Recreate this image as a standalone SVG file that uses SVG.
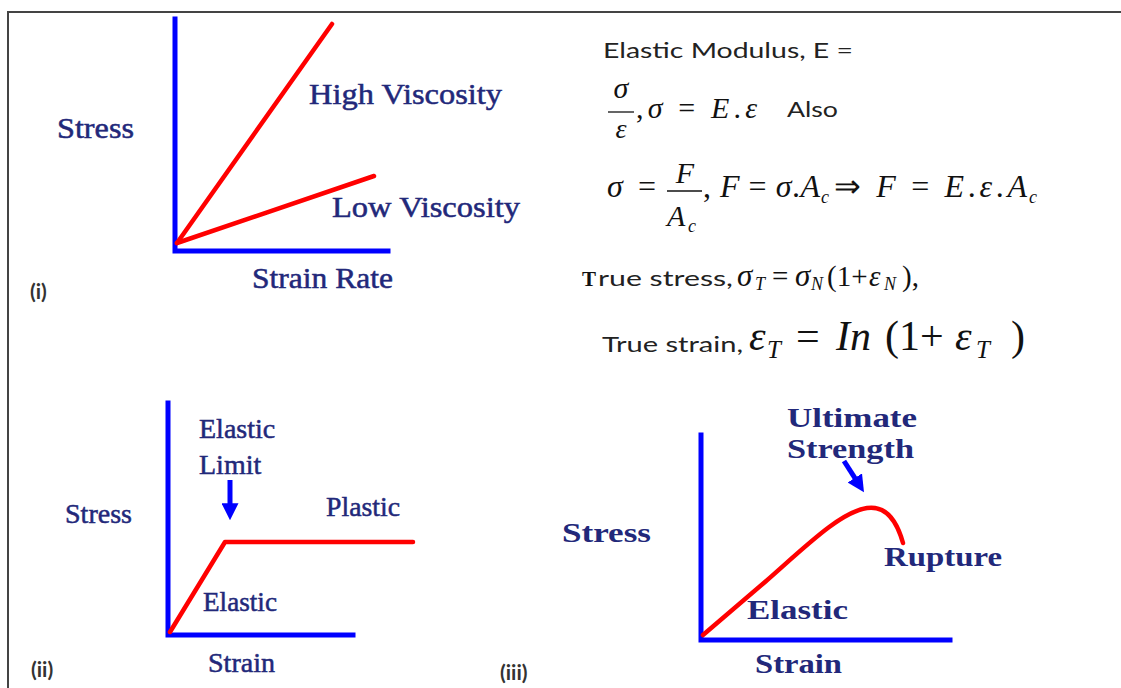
<svg xmlns="http://www.w3.org/2000/svg" width="1121" height="688" viewBox="0 0 1121 688">
<style>
.axis{stroke:#0000ff;stroke-width:5;fill:none;stroke-linecap:square}
.curve{stroke:#ff0000;stroke-width:4.5;fill:none;stroke-linecap:round;stroke-linejoin:round}
.lbl{font-family:"Liberation Serif","Times New Roman",serif;fill:#22287a;stroke:#22287a;stroke-width:0.5;font-size:29px}
.lblb{font-family:"Liberation Serif","Times New Roman",serif;fill:#22287a;font-size:28px;font-weight:bold}
.num{font-family:"Lato","Liberation Sans",sans-serif;fill:#333;font-size:21px;font-weight:bold}
.sans{font-family:"Lato","Liberation Sans",sans-serif;fill:#222;font-size:21px}
.m{font-family:"Liberation Serif","Times New Roman",serif;fill:#111;font-size:28px}
.mi{font-family:"Liberation Serif","Times New Roman",serif;fill:#111;font-style:italic}
.sub{font-family:"Liberation Serif","Times New Roman",serif;fill:#111;font-style:italic}
.frac{stroke:#111;stroke-width:1.3}
.arrow{stroke:#0000ff;stroke-width:5;fill:none}
</style>
<defs>
<marker id="head" viewBox="0 0 10 10" refX="4" refY="5" markerWidth="17" markerHeight="17" markerUnits="userSpaceOnUse" orient="auto">
<path d="M0,0 L10,5 L0,10 z" fill="#0000ff"/>
</marker>
</defs>
<rect width="1121" height="688" fill="#ffffff"/>
<g id="frame">
<line x1="8" y1="12" x2="1121" y2="12" stroke="#444" stroke-width="2"/>
<line x1="8" y1="11" x2="8" y2="688" stroke="#444" stroke-width="2"/>
</g>
<g id="panel-i">
<polyline class="axis" points="175,19 175,251 388,251"/>
<line class="curve" x1="177" y1="243" x2="332" y2="24"/>
<line class="curve" x1="177" y1="243" x2="374" y2="176"/>
<text class="lbl" x="57" y="138" textLength="77" lengthAdjust="spacingAndGlyphs">Stress</text>
<text class="lbl" x="309" y="104" textLength="193" lengthAdjust="spacingAndGlyphs">High Viscosity</text>
<text class="lbl" x="332" y="217" textLength="188" lengthAdjust="spacingAndGlyphs">Low Viscosity</text>
<text class="lbl" x="252" y="288" textLength="141" lengthAdjust="spacingAndGlyphs">Strain Rate</text>
<text class="num" x="30" y="299">(i)</text>
</g>
<g id="equations">
<text class="sans" x="603" y="58" textLength="250" lengthAdjust="spacingAndGlyphs">Elastic Modulus, E =</text>
<text class="mi" x="621" y="98" text-anchor="middle" style="font-size:30px">σ</text>
<line class="frac" x1="608" y1="112" x2="634" y2="112"/>
<text class="mi" x="621" y="138" text-anchor="middle" style="font-size:28px">ε</text>
<text class="m" x="636" y="118" textLength="121" lengthAdjust="spacing" style="font-size:30px">,<tspan class="mi">σ</tspan> = <tspan class="mi">E</tspan>.<tspan class="mi">ε</tspan></text>
<text class="sans" x="787" y="117" textLength="51" lengthAdjust="spacingAndGlyphs">Also</text>
<text class="mi" x="607" y="197" style="font-size:32px">σ</text>
<text class="m" x="638" y="197" style="font-size:32px">=</text>
<text class="mi" x="685" y="183" text-anchor="middle" style="font-size:30px">F</text>
<line class="frac" x1="667" y1="191" x2="702" y2="191"/>
<text class="mi" x="667" y="226" style="font-size:30px">A</text>
<text class="sub" x="688" y="232" style="font-size:18px">c</text>
<text class="m" x="703" y="197" textLength="117" lengthAdjust="spacing" style="font-size:32px">, <tspan class="mi">F</tspan> = <tspan class="mi">σ</tspan>.<tspan class="mi">A</tspan></text>
<text class="sub" x="821" y="203" style="font-size:18px">c</text>
<text class="m" x="834" y="197" textLength="193" lengthAdjust="spacing" style="font-size:32px">⇒ <tspan class="mi">F</tspan> = <tspan class="mi">E</tspan>.<tspan class="mi">ε</tspan>.<tspan class="mi">A</tspan></text>
<text class="sub" x="1029" y="203" style="font-size:18px">c</text>
<text x="582" y="286" font-family="Liberation Serif, serif" font-weight="bold" font-size="21" fill="#111">T</text>
<text class="sans" x="598" y="286" textLength="135" lengthAdjust="spacingAndGlyphs">rue stress,</text>
<text class="mi" x="737" y="286" style="font-size:31px">σ</text>
<text class="sub" x="755" y="290" style="font-size:18px">T</text>
<text class="m" x="772" y="286" style="font-size:29px">=</text>
<text class="mi" x="795" y="286" style="font-size:31px">σ</text>
<text class="sub" x="811" y="290" style="font-size:18px">N</text>
<text class="m" x="827" y="286" style="font-size:29px">(1+</text>
<text class="mi" x="869" y="286" style="font-size:29px">ε</text>
<text class="sub" x="884" y="290" style="font-size:18px">N</text>
<text class="m" x="902" y="286" style="font-size:29px">),</text>
<text class="sans" x="602" y="352" textLength="141" lengthAdjust="spacingAndGlyphs">True strain,</text>
<text class="mi" x="749" y="350" style="font-size:42px">ε</text>
<text class="sub" x="767" y="358" style="font-size:25px">T</text>
<text class="m" x="796" y="350" style="font-size:42px">=</text>
<text class="mi" x="836" y="350" style="font-size:42px">In</text>
<text class="m" x="885" y="350" style="font-size:42px">(1+</text>
<text class="mi" x="955" y="350" style="font-size:42px">ε</text>
<text class="sub" x="976" y="358" style="font-size:25px">T</text>
<text class="m" x="1011" y="350" style="font-size:42px">)</text>
</g>
<g id="panel-ii">
<polyline class="axis" points="168,403 168,635 353,635"/>
<polyline class="curve" points="170,632 225,542 413,542"/>
<text class="lbl" x="199" y="438" style="font-size:28px">Elastic</text>
<text class="lbl" x="199" y="474" style="font-size:28px">Limit</text>
<text class="lbl" x="65" y="523" style="font-size:28px" textLength="67" lengthAdjust="spacingAndGlyphs">Stress</text>
<text class="lbl" x="326" y="516" style="font-size:28px" textLength="74" lengthAdjust="spacingAndGlyphs">Plastic</text>
<text class="lbl" x="203" y="611" style="font-size:28px" textLength="74" lengthAdjust="spacingAndGlyphs">Elastic</text>
<text class="lbl" x="208" y="672" style="font-size:28px" textLength="67" lengthAdjust="spacingAndGlyphs">Strain</text>
<text class="num" x="31" y="677">(ii)</text>
</g>
<g id="panel-iii">
<polyline class="axis" points="701,435 701,640 950,640"/>
<path class="curve" d="M703,635 L765,582 C805,547 840,512 867,508 C888,505 898,525 903,543"/>
<text class="lblb" x="787" y="427" textLength="130" lengthAdjust="spacingAndGlyphs">Ultimate</text>
<text class="lblb" x="787" y="458" textLength="127" lengthAdjust="spacingAndGlyphs">Strength</text>
<text class="lblb" x="562" y="542" textLength="89" lengthAdjust="spacingAndGlyphs">Stress</text>
<text class="lblb" x="884" y="566" textLength="118" lengthAdjust="spacingAndGlyphs">Rupture</text>
<text class="lblb" x="747" y="619" textLength="101" lengthAdjust="spacingAndGlyphs">Elastic</text>
<text class="lblb" x="755" y="673" textLength="87" lengthAdjust="spacingAndGlyphs">Strain</text>
<text class="num" x="500" y="680">(iii)</text>
</g>
<g id="connectors">
<line class="arrow" x1="230" y1="480" x2="230" y2="510" marker-end="url(#head)"/>
<line class="arrow" x1="844" y1="461" x2="858.5" y2="483.7" marker-end="url(#head)"/>
</g>
</svg>
